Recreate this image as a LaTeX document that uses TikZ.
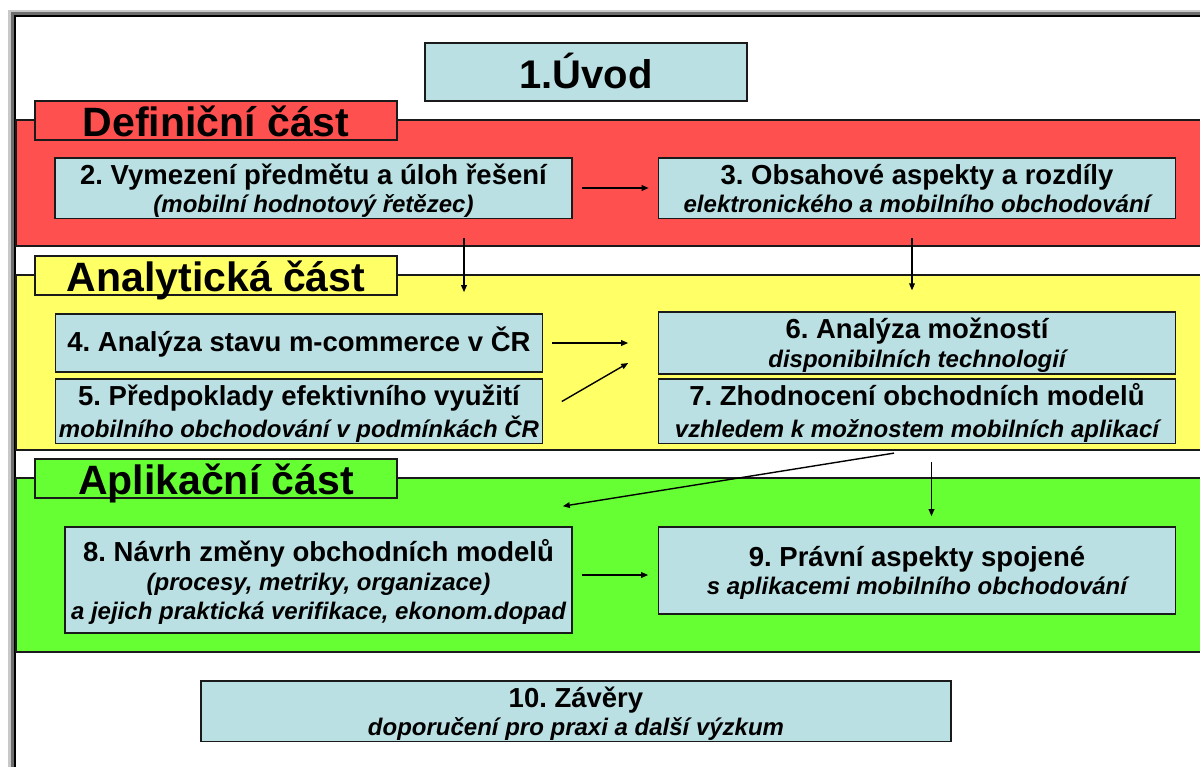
\documentclass[tikz,border=0pt]{standalone}
\usepackage{fontspec}
\setmainfont{Liberation Sans}
\usetikzlibrary{arrows.meta,calc}
\frenchspacing

\definecolor{bandred}{RGB}{255,80,80}
\definecolor{bandyellow}{RGB}{255,255,102}
\definecolor{bandgreen}{RGB}{102,255,51}
\definecolor{boxblue}{RGB}{187,224,227}
\definecolor{edge}{RGB}{26,26,26}
\definecolor{frameouter}{RGB}{200,200,200}
\definecolor{framemid}{RGB}{110,110,110}

% fonts for topic boxes
\newcommand{\tf}{\fontsize{13.75pt}{14.5pt}\selectfont\bfseries}
\newcommand{\itf}{\fontsize{12pt}{14.5pt}\selectfont\bfseries\itshape}
% struts fixing the text block inside the boxes
\newcommand{\hs}{\rule{0pt}{13.3pt}}
\newcommand{\ds}{\rule[-3pt]{0pt}{3pt}}

\begin{document}
\begin{tikzpicture}[x=0.5pt,y=-0.5pt,
  topic/.style={draw=edge,line width=0.8pt,fill=boxblue,inner sep=0pt,align=center,font=\tf},
  part/.style={draw=edge,line width=0.8pt,inner sep=0pt,
    font=\fontsize{20.5pt}{24pt}\selectfont\bfseries,
    text height=16pt,text depth=0pt,minimum width=181pt,minimum height=19.5pt},
  band/.style={draw=edge,line width=0.6pt},
  link/.style={line width=0.7pt,-{Triangle[length=3.5pt,width=2.8pt]}},
]
\useasboundingbox (0,0) rectangle (1200,767);
\begin{scope}
\clip (0,0) rectangle (1200,767);

% page background and sunken frame
\fill[white] (0,0) rectangle (1200,767);
\fill[frameouter] (8,10) rectangle (1200,767);
\fill[framemid] (11,12) rectangle (1200,767);
\fill[black] (14,15) rectangle (1200,767);
\fill[white] (16,17) rectangle (1200,767);

% coloured bands of the three parts
\draw[band,fill=bandred] (16,120) rectangle (1206,246);
\draw[band,fill=bandyellow] (16,275) rectangle (1206,450);
\draw[band,fill=bandgreen] (16,478) rectangle (1206,652);

% introduction
\node[topic,minimum width=161pt,minimum height=29pt,
  font=\fontsize{20pt}{24pt}\selectfont\bfseries,text height=16.3pt,text depth=0pt]
  (uvod) at (586,72) {1.Úvod};

% part labels
\node[part,fill=bandred] (pdef) at (216,120.5) {Definiční část};
\node[part,fill=bandyellow] (pana) at (216,275.5) {Analytická část};
\node[part,fill=bandgreen] (papl) at (216,478.5) {Aplikační část};

% definition part
\node[topic,minimum width=258.5pt,minimum height=29pt] (b2) at (313.5,188)
  {\hs 2. Vymezení předmětu a úloh řešení\\[-0.5pt]{\itf (mobilní hodnotový řetězec)}\ds};
\node[topic,minimum width=258.5pt,minimum height=29pt] (b3) at (917,188)
  {\hs 3. Obsahové aspekty a rozdíly\\[-0.5pt]{\itf elektronického a mobilního obchodování}\ds};

% analytical part
\node[topic,minimum width=243.5pt,minimum height=29pt] (b4) at (299,343)
  {\rule[-4pt]{0pt}{16.7pt}4. Analýza stavu m-commerce v ČR};
\node[topic,minimum width=243.5pt,minimum height=29pt] (b5) at (299,411)
  {\hs 5. Předpoklady efektivního využití\\[1.5pt]{\itf mobilního obchodování v podmínkách ČR}\ds};
\node[topic,minimum width=258.5pt,minimum height=29pt] (b6) at (917,343)
  {\hs 6. Analýza možností\\{\itf disponibilních technologií}\ds};
\node[topic,minimum width=258.5pt,minimum height=29pt] (b7) at (917,411)
  {\hs 7. Zhodnocení obchodních modelů\\[1.5pt]{\itf vzhledem k možnostem mobilních aplikací}\ds};

% application part
\node[topic,minimum width=253.5pt,minimum height=53pt] (b8) at (318.5,580)
  {\hs 8. Návrh změny obchodních modelů\\{\itf (procesy, metriky, organizace)}\\{\itf a jejich praktická verifikace, ekonom.dopad}\ds};
\node[topic,minimum width=258.5pt,minimum height=43.5pt] (b9) at (917,570.5)
  {\hs 9. Právní aspekty spojené\\[-0.5pt]{\itf s aplikacemi mobilního obchodování}\ds};

% conclusions
\node[topic,minimum width=375pt,minimum height=29pt] (b10) at (576,711)
  {\hs 10. Závěry\\[-0.5pt]{\itf doporučení pro praxi a další výzkum}\ds};

% connectors
\draw[link] ($(b2.east)+(9,0)$) -- ($(b3.west)+(-9,0)$);
\draw[link] ($(b2.south)+(150.5,19)$) -- ($(b4.north)+(165,-21)$);
\draw[link] ($(b3.south)+(-5,19)$) -- ($(b6.north)+(-5,-21)$);
\draw[link] ($(b4.east)+(8.5,0)$) -- ($(b6.west)+(-29.5,0)$);
\draw[link] ($(b5.east)+(18.5,-9.5)$) -- ($(b6.west)+(-29.5,20)$);
\draw[link] ($(b7.south)+(-23,9)$) -- ($(b8.north east)+(-10,-20)$);
\draw[link] ($(b7.south)+(14.5,18)$) -- ($(b9.north)+(14.5,-10)$);
\draw[link] ($(b8.east)+(9,-5)$) -- ($(b9.west)+(-9.5,4.5)$);
\end{scope}
\end{tikzpicture}
\end{document}
